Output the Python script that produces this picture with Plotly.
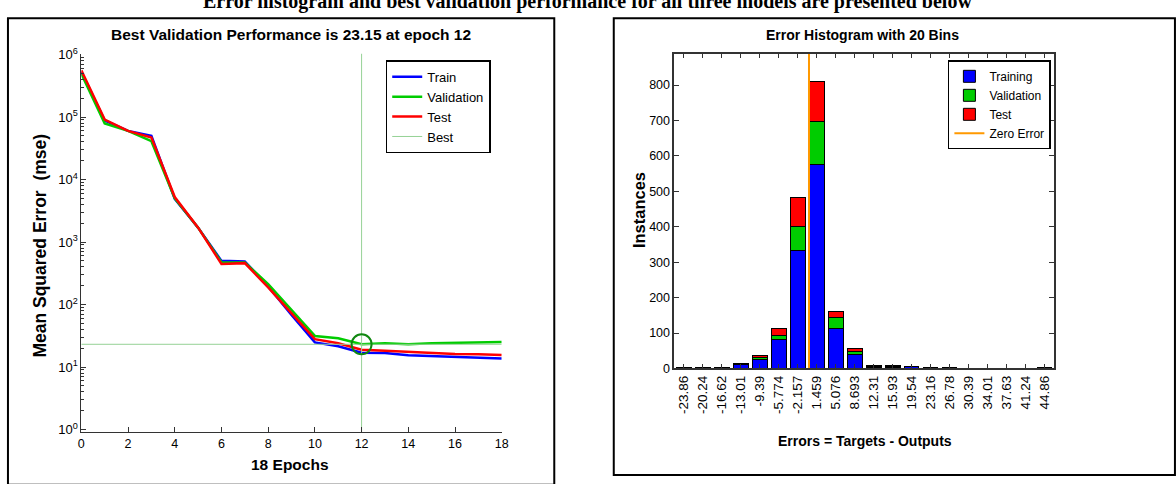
import plotly.graph_objects as go

W, H = 1176, 484

# ---------------- data ----------------
epochs = list(range(19))
train_mse = [5.3e5, 8.8e4, 6.0e4, 5.0e4, 4900, 1700, 500, 490, 195, 68, 24.8, 21.5, 17.0, 16.8, 15.5, 15.0, 14.5, 13.8, 13.7]
val_mse = [4.9e5, 7.9e4, 6.0e4, 4.1e4, 5000, 1700, 476, 470, 212, 82, 31.5, 29.0, 23.15, 24.0, 23.2, 24.0, 24.2, 25.0, 25.3]
test_mse = [5.6e5, 9.1e4, 6.0e4, 4.7e4, 5250, 1700, 447, 460, 188, 72, 28.0, 24.0, 19.0, 18.3, 17.5, 16.8, 16.2, 16.0, 15.6]
best_epoch = 12
best_val = 23.15

bin_labels = ["-23.86", "-20.24", "-16.62", "-13.01", "-9.39", "-5.774", "-2.157", "1.459", "5.076", "8.693",
              "12.31", "15.93", "19.54", "23.16", "26.78", "30.39", "34.01", "37.63", "41.24", "44.86"]
bin_centers = [float(s) for s in bin_labels]
hist_train = [1, 2, 2, 12, 26, 82, 332, 576, 113, 40, 3, 3, 5, 2, 1, 0, 0, 0, 0, 2]
hist_val = [0, 0, 0, 1, 4, 12, 68, 121, 30, 8, 2, 3, 1, 0, 1, 0, 0, 0, 0, 0]
hist_test = [1, 0, 1, 2, 7, 19, 83, 112, 19, 8, 4, 1, 0, 1, 1, 0, 0, 0, 0, 0]

# ---------------- helpers ----------------
def X(px):
    return px / W

def Y(py):
    return 1 - py / H

SANS = "Liberation Sans, Arial, Helvetica, sans-serif"
AX = "#333333"

LOG_RANGE = [-0.045, 6.015]
HIST_YMAX = 889

fig = go.Figure()

# ---------------- performance plot ----------------
fig.add_trace(go.Scatter(x=epochs, y=train_mse, mode="lines", name="Train",
                         line=dict(color="#0000ff", width=2.5), xaxis="x", yaxis="y", legend="legend"))
fig.add_trace(go.Scatter(x=epochs, y=val_mse, mode="lines", name="Validation",
                         line=dict(color="#00cc00", width=2.5), xaxis="x", yaxis="y", legend="legend"))
fig.add_trace(go.Scatter(x=epochs, y=test_mse, mode="lines", name="Test",
                         line=dict(color="#ff0000", width=2.5), xaxis="x", yaxis="y", legend="legend"))
fig.add_trace(go.Scatter(x=[best_epoch, best_epoch, None, epochs[0], epochs[-1]],
                         y=[10 ** LOG_RANGE[0], 10 ** LOG_RANGE[1], None, best_val, best_val],
                         mode="lines", name="Best",
                         line=dict(color="rgb(150,210,150)", width=1), xaxis="x", yaxis="y", legend="legend"))
fig.add_trace(go.Scatter(x=[best_epoch], y=[best_val], mode="markers", showlegend=False,
                         marker=dict(symbol="circle-open", size=20, color="#118811", line=dict(width=2)),
                         xaxis="x", yaxis="y"))

# ---------------- histogram ----------------
fig.add_trace(go.Bar(x=bin_centers, y=hist_train, name="Training", marker=dict(color="#0000ff", line=dict(color="black", width=1)),
                     xaxis="x2", yaxis="y2", legend="legend2"))
fig.add_trace(go.Bar(x=bin_centers, y=hist_val, name="Validation", marker=dict(color="#00cc00", line=dict(color="black", width=1)),
                     xaxis="x2", yaxis="y2", legend="legend2"))
fig.add_trace(go.Bar(x=bin_centers, y=hist_test, name="Test", marker=dict(color="#ff0000", line=dict(color="black", width=1)),
                     xaxis="x2", yaxis="y2", legend="legend2"))
fig.add_trace(go.Scatter(x=[0, 0], y=[0, HIST_YMAX], mode="lines", name="Zero Error",
                         line=dict(color="#ff9900", width=2), xaxis="x2", yaxis="y2", legend="legend2"))

half_bin = (bin_centers[1] - bin_centers[0]) / 2
minor_vals = [k * 10 ** d for d in range(0, 6) for k in range(2, 10)]

fig.update_layout(
    width=W, height=H,
    margin=dict(l=0, r=0, t=0, b=0),
    paper_bgcolor="white", plot_bgcolor="white",
    barmode="stack", bargap=0.22,
    showlegend=True,
    font=dict(family=SANS, color="black"),
    xaxis=dict(domain=[X(79), X(503)], anchor="y", range=[0, 18], tickmode="array",
               tickvals=list(range(0, 19, 2)), ticks="inside", ticklen=5, tickcolor=AX,
               showline=True, linecolor=AX, linewidth=1, showgrid=False, zeroline=False,
               tickfont=dict(size=12.5, color="black")),
    yaxis=dict(domain=[Y(438), Y(47)], anchor="x", type="log", range=LOG_RANGE, tickmode="array",
               tickvals=[10 ** d for d in range(7)],
               ticktext=["10<sup>%d</sup>" % d for d in range(7)],
               ticks="inside", ticklen=5, tickcolor=AX,
               minor=dict(ticks="inside", ticklen=3, tickcolor=AX, tickmode="array", tickvals=minor_vals, showgrid=False),
               showline=True, linecolor=AX, linewidth=1, showgrid=False, zeroline=False,
               tickfont=dict(size=13, color="black")),
    xaxis2=dict(domain=[X(677), X(1060)], anchor="y2",
                range=[bin_centers[0] - half_bin, bin_centers[-1] + half_bin],
                tickmode="array", tickvals=bin_centers, ticktext=bin_labels, tickangle=-90,
                ticks="inside", ticklen=5, tickcolor=AX, mirror="ticks",
                showline=True, linecolor=AX, linewidth=1.5, showgrid=False, zeroline=False,
                tickfont=dict(size=13.5, color="black")),
    yaxis2=dict(domain=[Y(372), Y(47)], anchor="x2", range=[0, HIST_YMAX], tickmode="array",
                tickvals=list(range(0, 801, 100)), ticks="inside", ticklen=5, tickcolor=AX, mirror="ticks",
                showline=True, linecolor=AX, linewidth=1.5, showgrid=False, zeroline=False,
                tickfont=dict(size=12.5, color="black")),
    legend=dict(x=X(386), y=Y(54), xanchor="left", yanchor="top", bgcolor="white",
                bordercolor="black", borderwidth=1.5, font=dict(size=13, family=SANS), traceorder="normal"),
    legend2=dict(x=X(953), y=Y(54), xanchor="left", yanchor="top", bgcolor="white",
                 bordercolor="black", borderwidth=1.5, font=dict(size=12, family=SANS), traceorder="normal"),
)

# frames
fig.add_shape(type="rect", xref="paper", yref="paper", x0=X(5), x1=X(556), y0=Y(492), y1=Y(10.5),
              line=dict(color="black", width=2), layer="above")
fig.add_shape(type="rect", xref="paper", yref="paper", x0=X(616), x1=X(1182), y0=Y(482), y1=Y(10.5),
              line=dict(color="black", width=2), layer="above")

def txt(s, x, y, size, bold=True, angle=0, family=SANS):
    fig.add_annotation(text=s, x=X(x), y=Y(y), xref="paper", yref="paper", showarrow=False,
                       xanchor="center", yanchor="middle", textangle=angle,
                       font=dict(size=size, family=family, color="black", weight="bold" if bold else "normal"))

txt("Error histogram and best validation performance for all three models are presented below",
    590, -7, 20, family="Liberation Serif, Times New Roman, serif")
txt("Best Validation Performance is 23.15 at epoch 12", 290, 27, 15.5)
txt("18 Epochs", 289, 471, 15.5)
txt("Mean Squared Error  (mse)", 37.5, 245, 17.5, angle=-90)
txt("Error Histogram with 20 Bins", 867, 28, 14)
txt("Instances", 641, 209, 16.5, angle=-90)
txt("Errors = Targets - Outputs", 869, 447, 14)

fig.write_html("out.html")
